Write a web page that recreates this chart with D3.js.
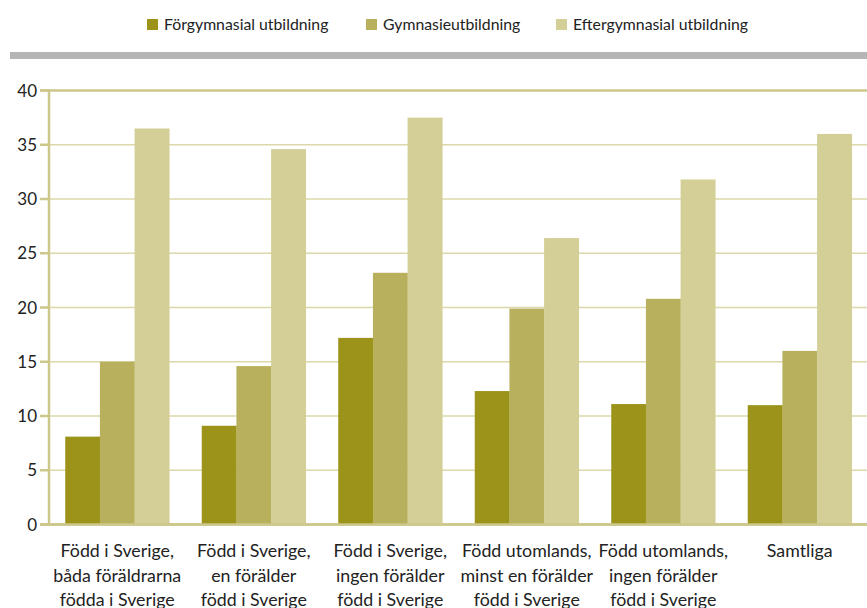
<!DOCTYPE html>
<html>
<head>
<meta charset="utf-8">
<script src="https://cdn.jsdelivr.net/npm/d3@7"></script>
<style>
  body { margin: 0; background: #fff; }
  svg text { font-family: Lato, "Open Sans", sans-serif; fill: #222; }
</style>
</head>
<body>
<svg id="chart" width="867" height="608"></svg>
<script>
// categories (x-axis labels, one line per entry)
let categories = [
	["Född i Sverige,", "båda föräldrarna", "födda i Sverige"],
	["Född i Sverige,", "en förälder", "född i Sverige"],
	["Född i Sverige,", "ingen förälder", "född i Sverige"],
	["Född utomlands,", "minst en förälder", "född i Sverige"],
	["Född utomlands,", "ingen förälder", "född i Sverige"],
	["Samtliga"]
];
let series_names = ["Förgymnasial utbildning", "Gymnasieutbildning", "Eftergymnasial utbildning"];
let forgymnasial = [8.1, 9.1, 17.2, 12.3, 11.1, 11.0];
let gymnasie = [15.0, 14.6, 23.2, 19.9, 20.8, 16.0];
let eftergymnasial = [36.5, 34.6, 37.5, 26.4, 31.8, 36.0];
let y_ticks = [0, 5, 10, 15, 20, 25, 30, 35, 40];

let colors = ["#9c931b", "#b8b05c", "#d4cf97"];
let axisColor = "#cdc78c";
let gridColor = "#dcd8aa";

let svg = d3.select("#chart");
let series = [forgymnasial, gymnasie, eftergymnasial];
let cat_ids = categories.map((d, i) => i);

let x0 = d3.scaleBand()
	.domain(cat_ids)
	.range([49, 868])
	.paddingInner(0.238)
	.paddingOuter(0.119);
let x1 = d3.scaleBand()
	.domain([0, 1, 2])
	.range([0, x0.bandwidth()]);
let y = d3.scaleLinear()
	.domain([0, 40])
	.range([524.5, 90.5]);

// legend
let legend_x = [147, 366, 556];
series_names.forEach((name, i) => {
	let g = svg.append("g").attr("transform", `translate(${legend_x[i]},0)`);
	g.append("rect")
		.attr("x", 0).attr("y", 19)
		.attr("width", 11).attr("height", 11)
		.attr("fill", colors[i]);
	g.append("text")
		.attr("x", 17).attr("y", 30)
		.style("font-size", "15.8px")
		.text(name);
});

// grey separator
svg.append("rect")
	.attr("x", 10).attr("y", 52)
	.attr("width", 857).attr("height", 7)
	.attr("fill", "#b5b5b8");

// gridlines + ticks
y_ticks.forEach((t) => {
	let isEdge = (t === 0 || t === 40);
	svg.append("line")
		.attr("x1", 40).attr("x2", 867)
		.attr("y1", y(t)).attr("y2", y(t))
		.style("stroke", isEdge ? axisColor : gridColor)
		.style("stroke-width", isEdge ? "2.5px" : "1.5px");
	svg.append("line")
		.attr("x1", 40).attr("x2", 49)
		.attr("y1", y(t)).attr("y2", y(t))
		.style("stroke", axisColor)
		.style("stroke-width", "2.5px");
	svg.append("text")
		.attr("x", 37).attr("y", y(t) + 6)
		.attr("text-anchor", "end")
		.style("font-size", "17px")
		.text(t);
});

// bars
let groups = svg.selectAll(".group")
	.data(cat_ids)
	.enter().append("g")
	.attr("class", "group")
	.attr("transform", (d) => `translate(${x0(d)},0)`);

groups.selectAll("rect")
	.data((d) => series.map((s, k) => ({k: k, v: s[d]})))
	.enter().append("rect")
	.attr("x", (d) => x1(d.k))
	.attr("width", x1.bandwidth() + 0.3)
	.attr("y", (d) => y(d.v))
	.attr("height", (d) => y(0) - y(d.v))
	.attr("fill", (d) => colors[d.k]);

// redraw baseline on top of bars
svg.append("line")
	.attr("x1", 40).attr("x2", 867)
	.attr("y1", y(0)).attr("y2", y(0))
	.style("stroke", axisColor)
	.style("stroke-width", "2.5px");

// y axis line
svg.append("line")
	.attr("x1", 49).attr("x2", 49)
	.attr("y1", y(40) - 1).attr("y2", y(0) + 1)
	.style("stroke", axisColor)
	.style("stroke-width", "2.5px");

// x labels
categories.forEach((lines, i) => {
	let t = svg.append("text")
		.attr("text-anchor", "middle")
		.style("font-size", "17.8px");
	lines.forEach((line, j) => {
		t.append("tspan")
			.attr("x", x0(i) + x0.bandwidth() / 2)
			.attr("y", 557 + j * 24.5)
			.text(line);
	});
});
</script>
</body>
</html>
